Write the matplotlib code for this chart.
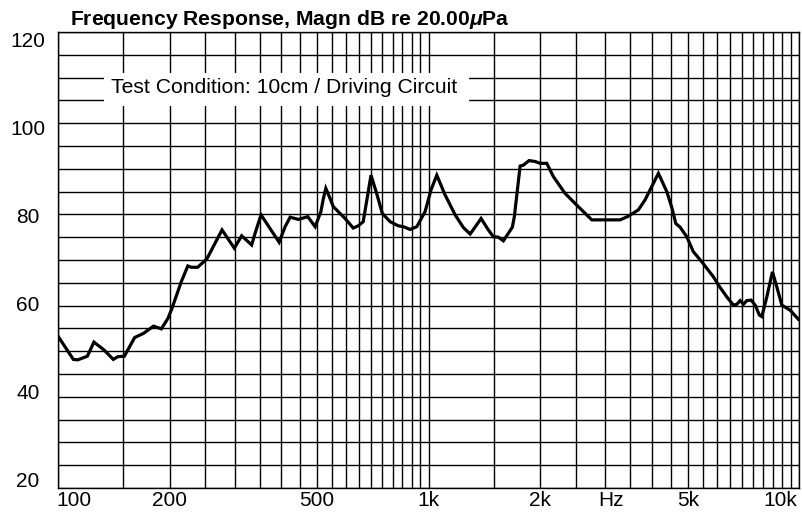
import numpy as np
import matplotlib.pyplot as plt
from matplotlib.ticker import NullFormatter
from matplotlib.transforms import ScaledTranslation
from matplotlib.patches import Rectangle

plt.rcParams['font.family'] = ['Liberation Sans', 'DejaVu Sans']
plt.rcParams['mathtext.fontset'] = 'custom'
plt.rcParams['mathtext.rm'] = 'Liberation Sans:bold'
plt.rcParams['mathtext.it'] = 'Liberation Sans:italic:bold'

# frequency response (Hz, dB)
freq = [100, 110, 113, 120, 125, 133, 141, 145, 151, 161, 170, 181, 190, 198,
        203, 215, 224, 229, 238, 252, 277, 299, 313, 333, 340, 353, 395, 410,
        423, 445, 472, 494, 512, 520, 528, 542, 553, 595, 626, 646, 666, 699,
        724, 750, 787, 828, 855, 891, 929, 978, 1015, 1052, 1107, 1179, 1241,
        1294, 1334, 1385, 1449, 1495, 1542, 1591, 1682, 1703, 1765, 1801, 1866,
        1937, 1998, 2083, 2170, 2334, 2534, 2755, 2992, 3285, 3458, 3680, 3837,
        4167, 4391, 4529, 4643, 4769, 4971, 5179, 5457, 5866, 6051, 6375, 6642,
        6784, 6924, 7068, 7218, 7414, 7601, 7806, 7923, 8173, 8463, 8697, 8972,
        9445, 9944]
magn = [53.3, 48.2, 48.1, 48.9, 52.0, 50.3, 48.2, 48.8, 48.9, 53.0, 53.9, 55.5,
        54.9, 57.2, 59.4, 65.2, 68.7, 68.4, 68.4, 70.2, 76.6, 72.6, 75.3, 73.3,
        75.8, 79.9, 73.9, 77.3, 79.4, 78.9, 79.5, 77.3, 80.6, 83.5, 85.7, 83.5,
        81.7, 79.1, 77.0, 77.5, 78.4, 88.6, 84.6, 80.2, 78.4, 77.5, 77.3, 76.7,
        77.3, 80.6, 85.4, 88.6, 84.3, 79.9, 77.1, 75.7, 77.2, 79.1, 76.6, 75.1,
        75.0, 74.2, 77.2, 79.5, 90.6, 90.8, 91.8, 91.6, 91.2, 91.2, 88.3, 84.6,
        81.7, 78.8, 78.8, 78.8, 79.6, 81.0, 83.2, 89.0, 85.0, 81.5, 78.0, 77.2,
        75.1, 71.8, 69.6, 66.3, 64.5, 61.9, 60.1, 60.3, 61.1, 60.3, 61.1, 61.2,
        60.1, 57.9, 57.6, 61.9, 67.4, 64.1, 60.1, 59.0, 57.0]

x_ticks = [100, 200, 500, 1000, 2000, 3100, 5000, 10000]
x_labels = ['100', '200', '500', '1k', '2k', 'Hz', '5k', '10k']
y_ticks = [20, 40, 60, 80, 100, 120]

title = 'Frequency Response, Magn dB re 20.00$\\mu$Pa'
note = 'Test Condition: 10cm / Driving Circuit'

fig = plt.figure(figsize=(8.02, 5.12), dpi=100)
ax = fig.add_axes([58 / 802, 24 / 512, 741.3 / 802, 456 / 512])

ax.set_xscale('log')
ax.set_xlim(100, 10000)
ax.set_ylim(20, 120)

# log grid: every 50 Hz below 1k, every 500 Hz above
ax.set_xticks(x_ticks, x_labels)
ax.set_xticks(np.r_[np.arange(100, 1000, 50), np.arange(1000, 10001, 500)], minor=True)
ax.xaxis.set_minor_formatter(NullFormatter())
ax.set_yticks(y_ticks)
ax.set_yticks(np.arange(20, 121, 5), minor=True)
ax.xaxis.remove_overlapping_locs = False
ax.yaxis.remove_overlapping_locs = False
ax.grid(which='minor', color='black', lw=1)

ax.tick_params(which='both', length=0)
ax.tick_params(axis='x', pad=2.0, labelsize=15)
ax.tick_params(axis='y', pad=21.6, labelsize=15)

for s in ax.spines.values():
    s.set_color('black')
    s.set_linewidth(1)

# nudge the labels like the original
dy = [8.5, 5.2, 2.0, -1.6, -4.8, -8.0]
for lab, d in zip(ax.get_yticklabels(), dy):
    lab.set_ha('center')
    lab.set_transform(lab.get_transform() + ScaledTranslation(0, d / 100, fig.dpi_scale_trans))
xl = ax.get_xticklabels()
xl[0].set_ha('left')
xl[0].set_transform(xl[0].get_transform() + ScaledTranslation(-2 / 100, 0, fig.dpi_scale_trans))
xl[-1].set_ha('right')
xl[-1].set_transform(xl[-1].get_transform() + ScaledTranslation(-2.5 / 100, 0, fig.dpi_scale_trans))

ax.plot(freq, magn, color='black', lw=2.3, solid_joinstyle='miter', zorder=3)

# white label box over the grid
ax.add_patch(Rectangle((0.0621, 0.8377), 0.4923, 0.0724, transform=ax.transAxes,
                       facecolor='white', edgecolor='none', zorder=2))
ax.text(0.3049, 0.8662, note, transform=ax.transAxes, ha='center', va='baseline',
        fontsize=15.2, zorder=4)

fig.text(70 / 802, 1 - 25 / 512, title, fontsize=15.2, fontweight='bold', va='baseline')

fig.savefig('out.png', dpi=100)
